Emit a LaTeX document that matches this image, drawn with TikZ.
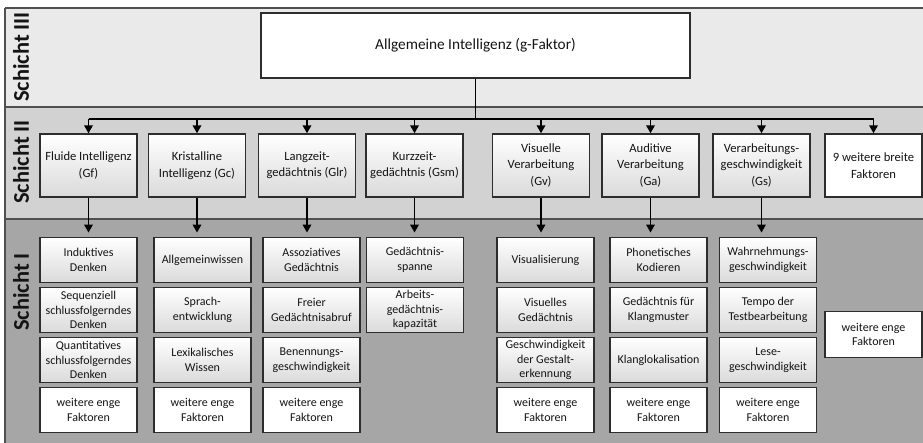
\documentclass[tikz,border=0pt]{standalone}
\usepackage{fontspec}
\setmainfont{Carlito}
\usetikzlibrary{arrows.meta}
\definecolor{bandthree}{RGB}{234,234,234}
\definecolor{bandtwo}{RGB}{210,210,210}
\definecolor{bandone}{RGB}{166,166,166}
\definecolor{bandline}{RGB}{80,80,80}
\definecolor{boxline}{RGB}{45,45,45}
\definecolor{boxshade}{RGB}{218,218,218}
\definecolor{txt}{RGB}{20,20,20}
\begin{document}
\begin{tikzpicture}[x=1pt,y=-1pt,
  bandrule/.style={draw=bandline,line width=1.1pt},
  basebox/.style={draw=boxline,line width=1.4pt,rectangle,align=center,inner sep=1pt,text=txt},
  levtwo/.style={basebox,top color=white,bottom color=boxshade,minimum width=97pt,minimum height=63pt,font=\fontsize{12.6}{16.5}\selectfont},
  levtwow/.style={basebox,fill=white,minimum width=97pt,minimum height=63pt,font=\fontsize{12.6}{16.5}\selectfont},
  levone/.style={basebox,top color=white,bottom color=boxshade,minimum width=97pt,minimum height=45.5pt,font=\fontsize{12}{14.7}\selectfont},
  levonew/.style={basebox,fill=white,minimum width=97pt,minimum height=45.5pt,font=\fontsize{12}{14.7}\selectfont},
  topbox/.style={basebox,fill=white,minimum width=429pt,minimum height=65pt,font=\fontsize{15.3}{18}\selectfont},
  lbl/.style={rotate=90,font=\bfseries\fontsize{22.5}{27}\selectfont,text=txt,inner sep=0pt},
  conn/.style={draw=black,line width=1.8pt},
  arr/.style={conn,-{Triangle[length=8pt,width=8.5pt]}}
]
\useasboundingbox (0,0) rectangle (923,443);
% bands
\fill[bandthree] (5,8) rectangle (923,107);
\fill[bandtwo] (5,107) rectangle (923,219);
\fill[bandone] (5,219) rectangle (923,443);
\draw[bandrule] (5,8) -- (923,8);
\draw[bandrule] (5,107) -- (923,107);
\draw[bandrule] (5,219) -- (923,219);
\draw[bandrule] (5,8) -- (5,443);
% labels
\node[lbl] (s3) at (21,57) {Schicht III};
\node[lbl] (s2) at (21,162) {Schicht II};
\node[lbl] (s1) at (21,292) {Schicht I};
% top
\node[topbox] (g) at (475.5,45.5) {Allgemeine Intelligenz (g-Faktor)};
% level II
\node[levtwo] (b1) at (88.5,165.5) {Fluide Intelligenz\\(Gf)};
\node[levtwo] (b2) at (197,165.5) {Kristalline\\Intelligenz (Gc)};
\node[levtwo] (b3) at (307,165.5) {Langzeit-\\gedächtnis (Glr)};
\node[levtwo] (b4) at (414.5,165.5) {Kurzzeit-\\gedächtnis (Gsm)};
\node[levtwo] (b5) at (541,165.5) {Visuelle\\Verarbeitung\\(Gv)};
\node[levtwo] (b6) at (650.5,165.5) {Auditive\\Verarbeitung\\(Ga)};
\node[levtwo] (b7) at (761.5,165.5) {Verarbeitungs-\\geschwindigkeit\\(Gs)};
\node[levtwow] (b8) at (873.5,165.5) {9 weitere breite\\Faktoren};
% level I
\node[levone] (c1r1) at (88.5,260) {Induktives\\Denken};
\node[levone] (c1r2) at (88.5,310) {Sequenziell\\schlussfolgerndes\\Denken};
\node[levone] (c1r3) at (88.5,360) {Quantitatives\\schlussfolgerndes\\Denken};
\node[levonew] (c1r4) at (88.5,410) {weitere enge\\Faktoren};
\node[levone] (c2r1) at (202.5,260) {Allgemeinwissen};
\node[levone] (c2r2) at (202.5,310) {Sprach-\\entwicklung};
\node[levone] (c2r3) at (202.5,360) {Lexikalisches\\Wissen};
\node[levonew] (c2r4) at (202.5,410) {weitere enge\\Faktoren};
\node[levone] (c3r1) at (311.5,260) {Assoziatives\\Gedächtnis};
\node[levone] (c3r2) at (311.5,310) {Freier\\Gedächtnisabruf};
\node[levone] (c3r3) at (311.5,360) {Benennungs-\\geschwindigkeit};
\node[levonew] (c3r4) at (311.5,410) {weitere enge\\Faktoren};
\node[levone] (c4r1) at (415,260) {Gedächtnis-\\spanne};
\node[levone] (c4r2) at (415,310) {Arbeits-\\gedächtnis-\\kapazität};
\node[levone] (c5r1) at (545.5,260) {Visualisierung};
\node[levone] (c5r2) at (545.5,310) {Visuelles\\Gedächtnis};
\node[levone] (c5r3) at (545.5,360) {Geschwindigkeit\\der Gestalt-\\erkennung};
\node[levonew] (c5r4) at (545.5,410) {weitere enge\\Faktoren};
\node[levone] (c6r1) at (658.5,260) {Phonetisches\\Kodieren};
\node[levone] (c6r2) at (658.5,310) {Gedächtnis für\\Klangmuster};
\node[levone] (c6r3) at (658.5,360) {Klanglokalisation};
\node[levonew] (c6r4) at (658.5,410) {weitere enge\\Faktoren};
\node[levone] (c7r1) at (768,260) {Wahrnehmungs-\\geschwindigkeit};
\node[levone] (c7r2) at (768,310) {Tempo der\\Testbearbeitung};
\node[levone] (c7r3) at (768,360) {Lese-\\geschwindigkeit};
\node[levonew] (c7r4) at (768,410) {weitere enge\\Faktoren};
\node[levonew] (c8r1) at (873.5,334.5) {weitere enge\\Faktoren};
% connectors
\coordinate (bus) at (475.5,119);
\draw[conn] (g.south) -- (g.south |- bus);
\draw[conn] (b1 |- bus) -- (b8 |- bus);
\foreach \b in {b1,b2,b3,b4,b5,b6,b7,b8}
  \draw[arr] (\b |- bus) -- (\b.north);
\foreach \b/\c in {b1/c1r1,b2/c2r1,b3/c3r1,b4/c4r1,b5/c5r1,b6/c6r1,b7/c7r1}
  \draw[arr,shorten >=4pt] (\b.south) -- (\b.south |- \c.north);
\end{tikzpicture}
\end{document}
